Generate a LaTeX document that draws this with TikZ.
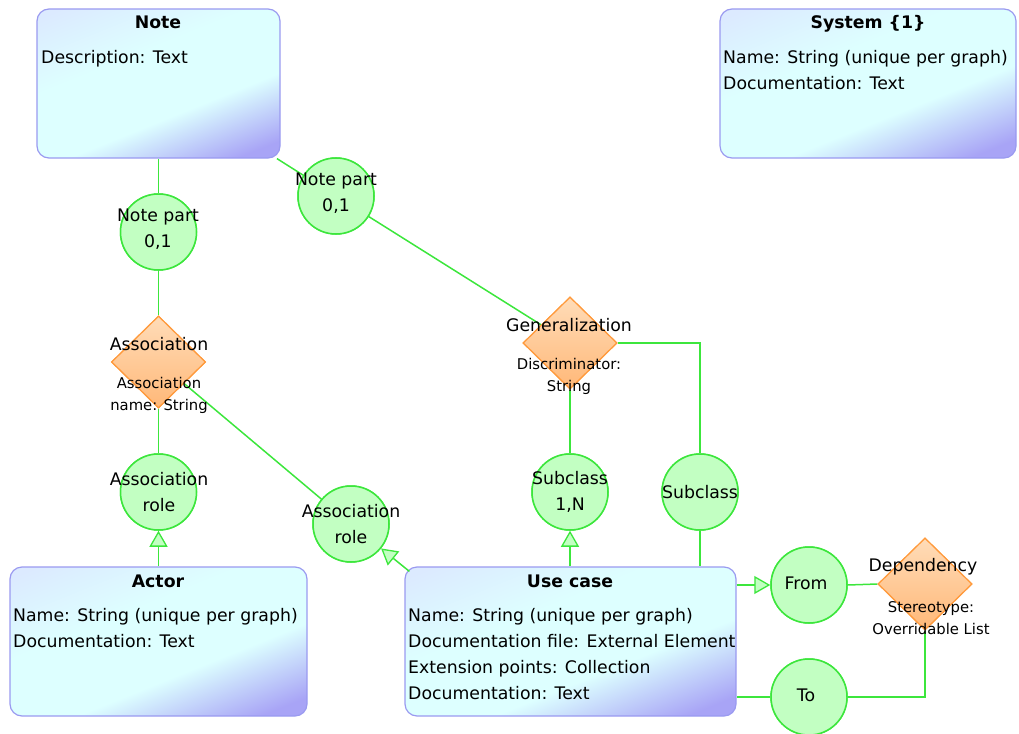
\documentclass[tikz,border=0pt]{standalone}
\usepackage{fontspec}
\setmainfont{DejaVu Sans}
\usetikzlibrary{shapes.geometric,arrows.meta,calc}
\definecolor{boxborder}{HTML}{9A9AF0}
\definecolor{boxblue}{HTML}{DCEAFF}
\definecolor{boxcyan}{HTML}{DDFFFF}
\definecolor{boxpurple}{HTML}{A8A4F6}
\definecolor{circfill}{HTML}{C2FFC2}
\definecolor{linegreen}{HTML}{3CE63C}
\definecolor{diaborder}{HTML}{FF9A3C}
\definecolor{diatop}{HTML}{FFDCB8}
\definecolor{diabot}{HTML}{FFB878}
\pgfdeclareverticalshading{boxshade}{100bp}{color(0bp)=(boxpurple); color(22bp)=(boxpurple); color(40bp)=(boxcyan); color(60bp)=(boxcyan); color(80bp)=(boxblue); color(100bp)=(boxblue)}
\begin{document}
\begin{tikzpicture}[x=1pt,y=-1pt,
  box/.style={draw=boxborder, line width=1.2pt, rounded corners=12pt, shading=boxshade, shading angle=22, inner sep=0pt},
  circ/.style={circle, draw=linegreen, fill=circfill, line width=1.5pt, minimum size=76pt, inner sep=0pt},
  dia/.style={diamond, draw=diaborder, top color=diatop, bottom color=diabot, line width=1.2pt, minimum width=94pt, minimum height=92pt, inner sep=0pt},
  conn/.style={draw=linegreen, line width=1.5pt},
  tri/.style={-{Triangle[length=16pt,width=18pt,fill=circfill,line width=1.3pt]}},
  title/.style={font=\fontsize{17.3}{26}\selectfont\bfseries, inner sep=0pt, anchor=center, text height=12.6pt, text depth=0pt},
  attr/.style={font=\fontsize{17.3}{26}\selectfont, inner sep=0pt, anchor=west, text height=12.6pt, text depth=0pt},
  lab/.style={font=\fontsize{17.3}{26}\selectfont, inner sep=0pt, align=center},
  small/.style={font=\fontsize{14.8}{22}\selectfont, inner sep=0pt, align=center}]
\useasboundingbox (0,0) rectangle (1019,733);

% boxes
\node[box, minimum width=243pt, minimum height=149pt] (note) at (158.5,83.5) {};
\node[box, minimum width=296pt, minimum height=149pt] (sys) at (868,83.5) {};
\node[box, minimum width=297pt, minimum height=149pt] (actor) at (158.5,641.5) {};
\node[box, minimum width=331pt, minimum height=149pt] (uc) at (570.5,641.5) {};

% circles
\node[circ] (np1) at (158.5,232) {};
\node[circ] (np2) at (336,196) {};
\node[circ] (ar1) at (158.5,492) {};
\node[circ] (ar2) at (351,524) {};
\node[circ] (sub1) at (570,492) {};
\node[circ] (sub2) at (700,492) {};
\node[circ] (from) at (809,585) {};
\node[circ] (to) at (809,697) {};

% diamonds
\node[dia] (assoc) at (158.5,362) {};
\node[dia] (gen) at (570,343) {};
\node[dia] (dep) at (925,584) {};

% connectors
\draw[conn] (note.south -| np1) -- (np1.north);
\draw[conn] (np1.south) -- (assoc.north);
\draw[conn] (assoc.south) -- (ar1.north);
\draw[conn] (note) -- (np2);
\draw[conn] (np2) -- (gen);
\draw[conn] (assoc) -- (ar2);
\coordinate (ucnw) at ($(uc.north west)+(5,5)$);
\draw[conn] (gen.south) -- (sub1.north);
\draw[conn] (gen.east) -- (sub2 |- gen.east) -- (sub2.north);
\draw[conn] (sub2.south) -- (sub2 |- uc.north);
\draw[conn] (from.east) -- (dep.west);
\draw[conn] (dep.south) |- (to.east);
\draw[conn] (to.west) -- (uc.east |- to);

% redraw shapes over the lines
\node[circ] at (np1) {};
\node[circ] at (np2) {};
\node[circ] at (ar1) {};
\node[circ] at (ar2) {};
\node[circ] at (sub1) {};
\node[circ] at (sub2) {};
\node[circ] at (from) {};
\node[circ] at (to) {};
\node[dia] at (assoc) {};
\node[dia] at (gen) {};
\node[dia] at (dep) {};
\draw[conn,tri] (ar1 |- actor.north) -- (ar1.south);
\draw[conn,tri] (ucnw) -- (ar2);
\draw[conn,tri] (sub1 |- uc.north) -- (sub1.south);
\draw[conn,tri] (uc.east |- from) -- (from.west);

% box texts
\node[title] (notet) at (158,22) {Note};
\node[attr] (notea) at (41,57) {Description: Text};
\node[title] (syst) at (868,22) {System \{1\}};
\node[attr] (sysa) at (723,57) {Name: String (unique per graph)};
\node[attr] (sysb) at (723,83) {Documentation: Text};
\node[title] (actt) at (158,581) {Actor};
\node[attr] (acta) at (13,615) {Name: String (unique per graph)};
\node[attr] (actb) at (13,641) {Documentation: Text};
\node[title] (uct) at (570,581) {Use case};
\node[attr] (uca) at (408,615) {Name: String (unique per graph)};
\node[attr] (ucb) at (408,641) {Documentation file: External Element};
\node[attr] (ucc) at (408,667) {Extension points: Collection};
\node[attr] (ucd) at (408,693) {Documentation: Text};

% circle labels
\node[lab] (np1l) at (158,229.5) {Note part\\0,1};
\node[lab] (np2l) at (336,193) {Note part\\0,1};
\node[lab] (ar1l) at (159,492) {Association\\role};
\node[lab] (ar2l) at (351,524) {Association\\role};
\node[lab] (sub1l) at (570,492) {Subclass\\1,N};
\node[lab] (sub2l) at (700,492) {Subclass};
\node[lab] (froml) at (806,583) {From};
\node[lab] (tol) at (806,695) {To};

% diamond labels
\node[lab] (assocl) at (159,344) {Association};
\node[small] (assocs) at (159,395.5) {Association\\name: String};
\node[lab] (genl) at (569,325) {Generalization};
\node[small] (gens) at (569,376) {Discriminator:\\String};
\node[lab] (depl) at (923,567) {Dependency};
\node[small] (deps) at (931,618) {Stereotype:\\Overridable List};
\end{tikzpicture}
\end{document}
